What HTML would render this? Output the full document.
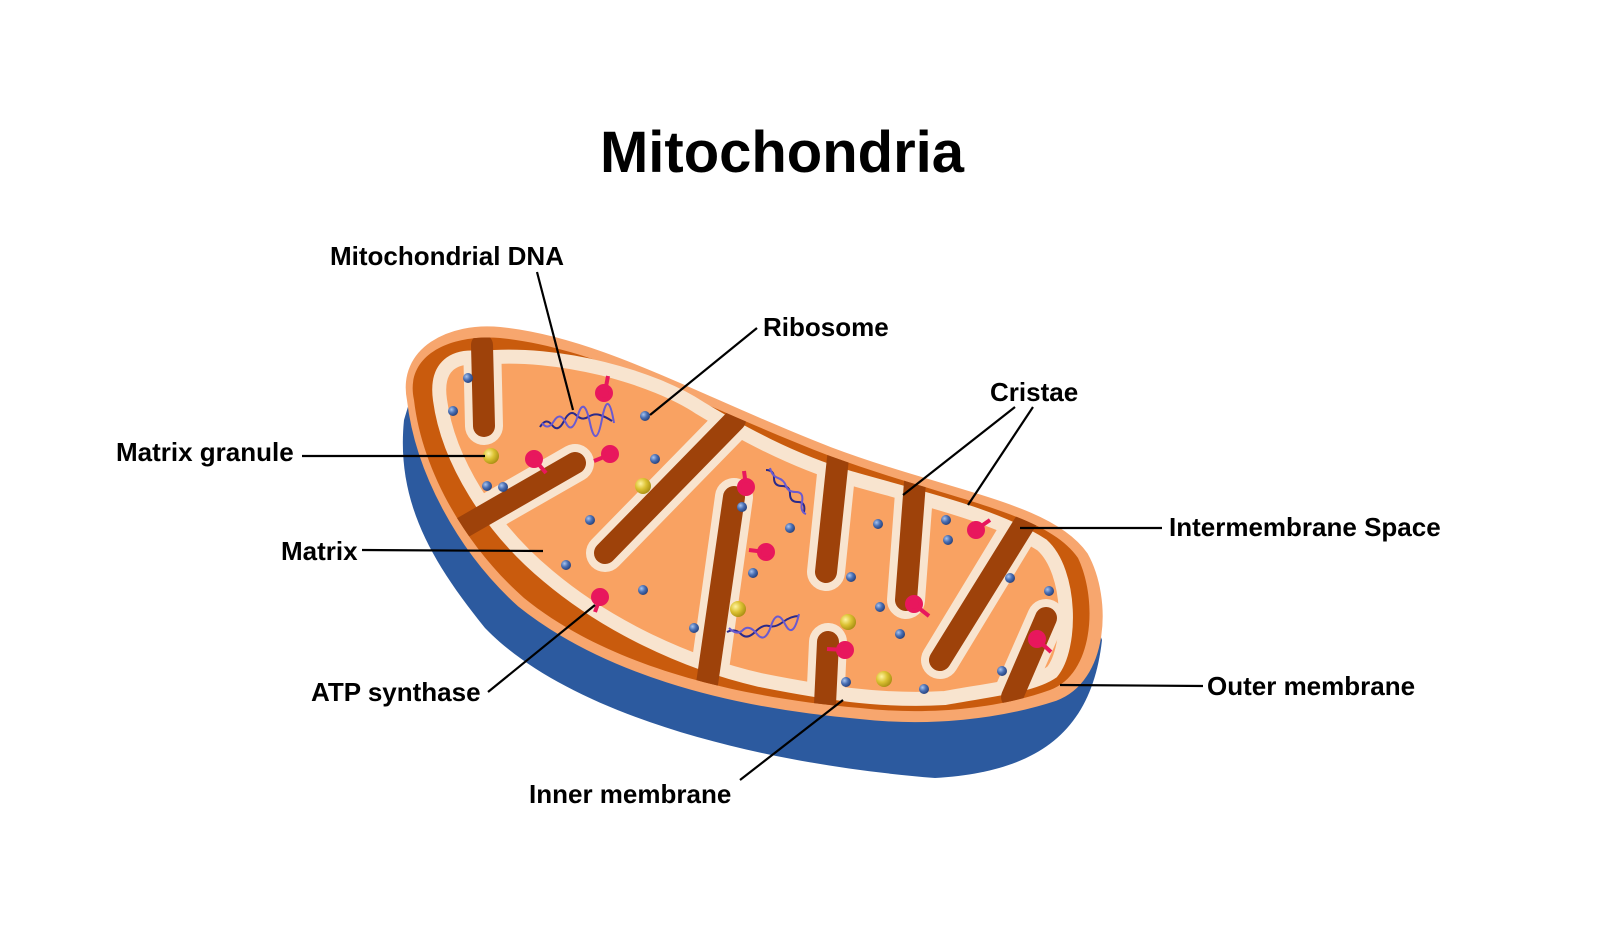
<!DOCTYPE html>
<html><head><meta charset="utf-8"><style>
html,body{margin:0;padding:0;background:#fff;}
svg{display:block;}
text{font-family:"Liberation Sans",Arial,sans-serif;font-weight:bold;fill:#000;}
</style></head><body>
<svg width="1600" height="951" viewBox="0 0 1600 951" xmlns="http://www.w3.org/2000/svg">
<defs>
<clipPath id="mc"><path id="mpath" d="M440,400 C435,365 455,355 480,358 C560,350 655,378 700,408 C740,432 790,460 850,478 C920,498 995,515 1042,545 C1072,572 1072,648 1052,672 C1032,686 988,690 945,698 C880,702 820,692 760,680 C682,662 605,624 548,576 C490,528 448,460 440,400 Z"/></clipPath>
<clipPath id="tc"><path id="tpath" d="M414,400 C404,354 452,334 500,338 C600,348 700,406 830,456 C950,500 1046,512 1078,558 C1098,600 1094,674 1050,690 C1000,708 930,716 860,708 C720,696 600,660 524,598 C465,546 422,470 414,400 Z"/></clipPath>
<radialGradient id="bd" cx="0.35" cy="0.35" r="0.7"><stop offset="0" stop-color="#a9c4ee"/><stop offset="0.5" stop-color="#4a6fb3"/><stop offset="1" stop-color="#243f7a"/></radialGradient>
<radialGradient id="yd" cx="0.35" cy="0.35" r="0.7"><stop offset="0" stop-color="#fff3a0"/><stop offset="0.5" stop-color="#dcc233"/><stop offset="1" stop-color="#a88e12"/></radialGradient>
</defs>
<text x="782" y="172" font-size="58" text-anchor="middle">Mitochondria</text>

<path d="M404,420 C396,500 430,560 485,628 C570,716 760,764 935,778 C1040,772 1092,730 1102,640 L1080,580 L410,400 Z" fill="#2c5a9f"/>
<path d="M410,400 C400,350 450,325 500,330 C600,340 700,400 830,450 C950,495 1050,505 1085,555 C1110,600 1105,680 1055,698 C1000,716 930,724 860,716 C720,704 600,668 520,604 C460,550 418,470 410,400 Z" fill="#f7a66e" stroke="#f7a66e" stroke-width="6"/>
<use href="#tpath" fill="#c95b0d"/>
<use href="#mpath" fill="#f9a262" stroke="#f8e4cf" stroke-width="14"/>
<g clip-path="url(#mc)" fill="none" stroke="#f8e4cf" stroke-width="38" stroke-linecap="round">
<path d="M484,426 L482,340"/>
<path d="M605,553 L735,420"/>
<path d="M826,572 L838,455"/>
<path d="M906,600 L915,480"/>
<path d="M940,660 L1028,515"/>
<path d="M575,463 L458,530"/>
<path d="M734,497 L707,690"/>
<path d="M828,642 L825,708"/>
<path d="M1046,618 L1010,700"/>
</g>
<g clip-path="url(#tc)" fill="none" stroke="#9e420a" stroke-width="22" stroke-linecap="round">
<path d="M484,426 L482,345"/>
<path d="M605,553 L735,420"/>
<path d="M826,572 L838,458"/>
<path d="M906,600 L915,482"/>
<path d="M940,660 L1028,518"/>
<path d="M575,463 L462,528"/>
<path d="M734,497 L707,684"/>
<path d="M828,642 L825,704"/>
<path d="M1046,618 L1012,697"/>
</g>

<g fill="none" stroke-width="2">
<path d="M540,427 q6,-10 12,-2 t12,-4 t12,-6 t12,2 t12,-2 t12,6" stroke="#2a2a8a"/>
<path d="M542,423 q6,8 12,-2 t12,2 t12,-8 t12,8 t12,-4 t12,4" stroke="#6a5ad0"/>
<path d="M766,470 q8,0 8,8 t8,8 t8,8 t8,8 t6,10" stroke="#2a2a8a"/>
<path d="M770,468 q2,8 8,10 t8,8 t10,6 t6,10 t4,12" stroke="#6a5ad0"/>
<path d="M727,632 q8,-4 14,2 t14,-2 t14,-6 t14,-4 t16,-6" stroke="#2a2a8a"/>
<path d="M729,628 q8,8 14,2 t14,4 t14,-8 t14,-2 t14,-10" stroke="#6a5ad0"/>
</g>

<g stroke="#e8175d" stroke-width="4" fill="#e8175d">
<line x1="605" y1="392" x2="608" y2="376"/><circle cx="604" cy="393" r="7"/>
<line x1="535" y1="460" x2="546" y2="473"/><circle cx="534" cy="459" r="7"/>
<line x1="609" y1="455" x2="594" y2="461"/><circle cx="610" cy="454" r="7"/>
<line x1="600" y1="598" x2="595" y2="612"/><circle cx="600" cy="597" r="7"/>
<line x1="746" y1="486" x2="744" y2="471"/><circle cx="746" cy="487" r="7"/>
<line x1="765" y1="552" x2="749" y2="550"/><circle cx="766" cy="552" r="7"/>
<line x1="845" y1="650" x2="827" y2="649"/><circle cx="845" cy="650" r="7"/>
<line x1="915" y1="605" x2="929" y2="616"/><circle cx="914" cy="604" r="7"/>
<line x1="977" y1="529" x2="990" y2="520"/><circle cx="976" cy="530" r="7"/>
<line x1="1038" y1="640" x2="1051" y2="652"/><circle cx="1037" cy="639" r="7"/>
</g>
<g fill="url(#bd)">
<circle cx="468" cy="378" r="5"/><circle cx="453" cy="411" r="5"/><circle cx="487" cy="486" r="5"/><circle cx="503" cy="487" r="5"/>
<circle cx="645" cy="416" r="5"/><circle cx="655" cy="459" r="5"/><circle cx="590" cy="520" r="5"/><circle cx="566" cy="565" r="5"/>
<circle cx="643" cy="590" r="5"/><circle cx="742" cy="507" r="5"/><circle cx="790" cy="528" r="5"/><circle cx="753" cy="573" r="5"/>
<circle cx="851" cy="577" r="5"/><circle cx="878" cy="524" r="5"/><circle cx="880" cy="607" r="5"/><circle cx="900" cy="634" r="5"/>
<circle cx="946" cy="520" r="5"/><circle cx="948" cy="540" r="5"/><circle cx="1010" cy="578" r="5"/><circle cx="1049" cy="591" r="5"/>
<circle cx="1002" cy="671" r="5"/><circle cx="924" cy="689" r="5"/><circle cx="846" cy="682" r="5"/><circle cx="694" cy="628" r="5"/>
</g>
<g fill="url(#yd)">
<circle cx="491" cy="456" r="8"/><circle cx="643" cy="486" r="8"/><circle cx="738" cy="609" r="8"/><circle cx="848" cy="622" r="8"/><circle cx="884" cy="679" r="8"/>
</g>

<g stroke="#000" stroke-width="2.2" fill="none">
<line x1="537" y1="272" x2="573" y2="410"/>
<line x1="757" y1="328" x2="650" y2="415"/>
<line x1="1015" y1="407" x2="903" y2="495"/>
<line x1="1033" y1="407" x2="968" y2="505"/>
<line x1="302" y1="456" x2="485" y2="456"/>
<line x1="1020" y1="528" x2="1162" y2="528"/>
<line x1="362" y1="550" x2="543" y2="551"/>
<line x1="488" y1="692" x2="595" y2="605"/>
<line x1="1060" y1="685" x2="1203" y2="686"/>
<line x1="740" y1="780" x2="843" y2="700"/>
</g>
<g font-size="26">
<text x="330" y="265">Mitochondrial DNA</text>
<text x="763" y="336">Ribosome</text>
<text x="990" y="401">Cristae</text>
<text x="116" y="461">Matrix granule</text>
<text x="1169" y="536">Intermembrane Space</text>
<text x="281" y="560">Matrix</text>
<text x="311" y="701">ATP synthase</text>
<text x="1207" y="695">Outer membrane</text>
<text x="529" y="803">Inner membrane</text>
</g>
</svg>
</body></html>
